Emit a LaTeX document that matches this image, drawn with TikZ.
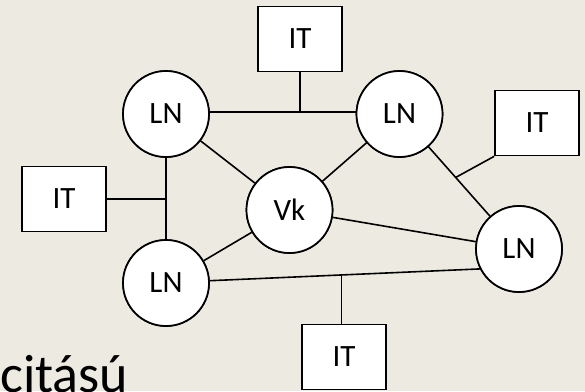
\documentclass[tikz,border=0pt]{standalone}
\usepackage{fontspec}
\setmainfont{Carlito}
\usetikzlibrary{calc}
\definecolor{paper}{RGB}{237,235,225}
\tikzset{
  lnode/.style={circle, draw=black, fill=white, line width=1.7pt,
    minimum size=86pt, inner sep=0pt, font=\fontsize{31}{33}\selectfont},
  itbox/.style={rectangle, draw=black, fill=white, line width=1.7pt,
    minimum width=84pt, minimum height=65pt, inner sep=0pt,
    font=\fontsize{31}{33}\selectfont},
  link/.style={draw=black, line width=1.6pt}
}
\begin{document}
\begin{tikzpicture}[x=1pt, y=-1pt]
  \useasboundingbox (0,0) rectangle (585,391);
  \clip (0,0) rectangle (585,391);
  \fill[paper] (0,0) rectangle (585,391);

  \coordinate (ptl) at (166,114);
  \coordinate (ptr) at (399.5,114);
  \coordinate (pvk) at (289.5,210);
  \coordinate (pbl) at (166,283);
  \coordinate (prl) at (519,249);

  % nodes
  \node[lnode] (tl) at (ptl) {LN};
  \node[lnode] (tr) at (ptr) {LN};
  \node[lnode] (vk) at (pvk) {Vk};
  \node[lnode] (bl) at (pbl) {LN};
  \node[lnode] (rl) at (prl) {LN};
  \node[itbox] (itt) at (300,39) {IT};
  \node[itbox] (itr) at (537,123) {IT};
  \node[itbox] (itl) at (64,199) {IT};
  \node[itbox] (itb) at (344,357) {IT};

  % links between the nodes
  \draw[link] (tl.3) -- (tr.177);
  \draw[link] (itt.south) -- (itt.south |- tl.3);
  \draw[link] (tl.south) -- (bl.north);
  \draw[link] (itl.east) -- (itl.east -| tl.south);
  \draw[link] (tl) -- (vk);
  \draw[link] (tr) -- (vk);
  \draw[link] (vk) -- (rl);
  \draw[link] (vk) -- (bl);
  \draw[link] (tr) -- (rl);
  \coordinate (jr) at ($(tr)!0.47!(rl)$);
  \draw[link] (itr.south west) -- (jr);
  \draw[link] (bl.3) -- (rl.207);
  \coordinate (jb) at ($(bl.3)!0.487!(rl.207)$);
  \draw[link] (jb) -- (jb |- itb.north);

  % circles again, over the centre-to-centre links
  \node[lnode] at (ptl) {LN};
  \node[lnode] at (ptr) {LN};
  \node[lnode] at (pvk) {Vk};
  \node[lnode] at (pbl) {LN};
  \node[lnode] at (prl) {LN};

  % caption text running off the lower edge
  \node[anchor=base west, inner sep=0pt, font=\fontsize{54}{60}\selectfont] (cap) at (0,392) {citású};
\end{tikzpicture}
\end{document}
